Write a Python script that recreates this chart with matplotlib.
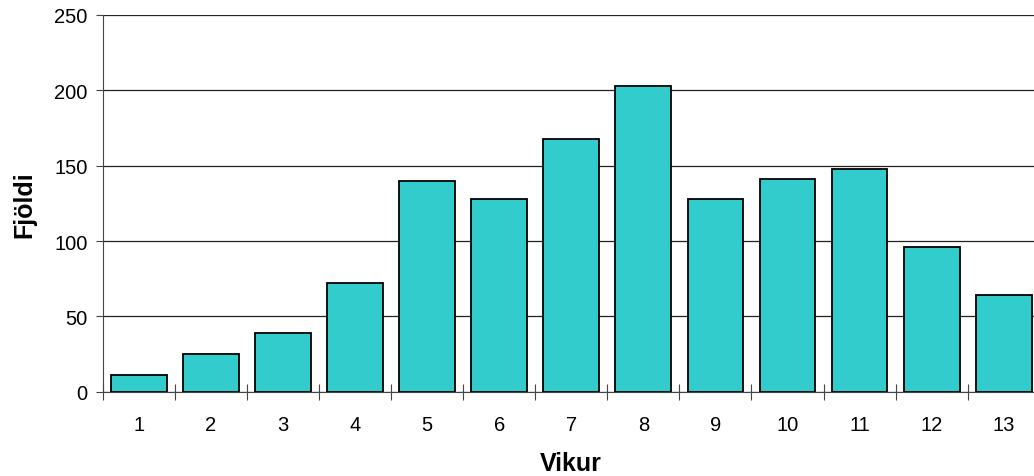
import numpy as np
import matplotlib.pyplot as plt
from matplotlib.ticker import FixedLocator, NullFormatter

plt.rcParams['font.family'] = ['Liberation Sans', 'DejaVu Sans']

# weekly counts
weeks = ['1', '2', '3', '4', '5', '6', '7', '8', '9', '10', '11', '12', '13']
counts = [11, 25, 39, 72, 140, 128, 168, 203, 128, 141, 148, 96, 64]
y_ticks = [0, 50, 100, 150, 200, 250]

fig = plt.figure(figsize=(10.34, 4.77), dpi=100)
ax = fig.add_axes([0.0993, 0.1767, 0.9063, 0.7898])

x = np.arange(len(weeks))
ax.bar(x, counts, width=0.773, color='#33CCCC', edgecolor='black', linewidth=1.3, zorder=3)

ax.set_xlim(-0.5, len(weeks) - 0.5)
ax.set_ylim(0, 250)
ax.set_yticks(y_ticks)
ax.yaxis.grid(True, color='#222222', linewidth=0.9, zorder=0)

# labels sit under the bars, tick marks between categories
ax.set_xticks(x)
ax.set_xticklabels(weeks)
ax.tick_params(axis='x', which='major', length=0, pad=17, labelsize=14.5)
ax.xaxis.set_minor_locator(FixedLocator(np.arange(-0.5, len(weeks), 1.0)))
ax.xaxis.set_minor_formatter(NullFormatter())
ax.tick_params(axis='x', which='minor', direction='inout', length=11, width=0.8, color='#444444')
ax.tick_params(axis='y', direction='out', length=5, width=0.8, color='#444444', labelsize=14.5, pad=6)

for side in ['top', 'right']:
    ax.spines[side].set_visible(False)
ax.spines['left'].set_color('#444444')
ax.spines['bottom'].set_color('#444444')

ax.set_xlabel('Vikur', fontsize=18, fontweight='bold', labelpad=12)
ax.set_ylabel('Fjöldi', fontsize=18, fontweight='bold', labelpad=13)

fig.savefig('out.png', dpi=100)
